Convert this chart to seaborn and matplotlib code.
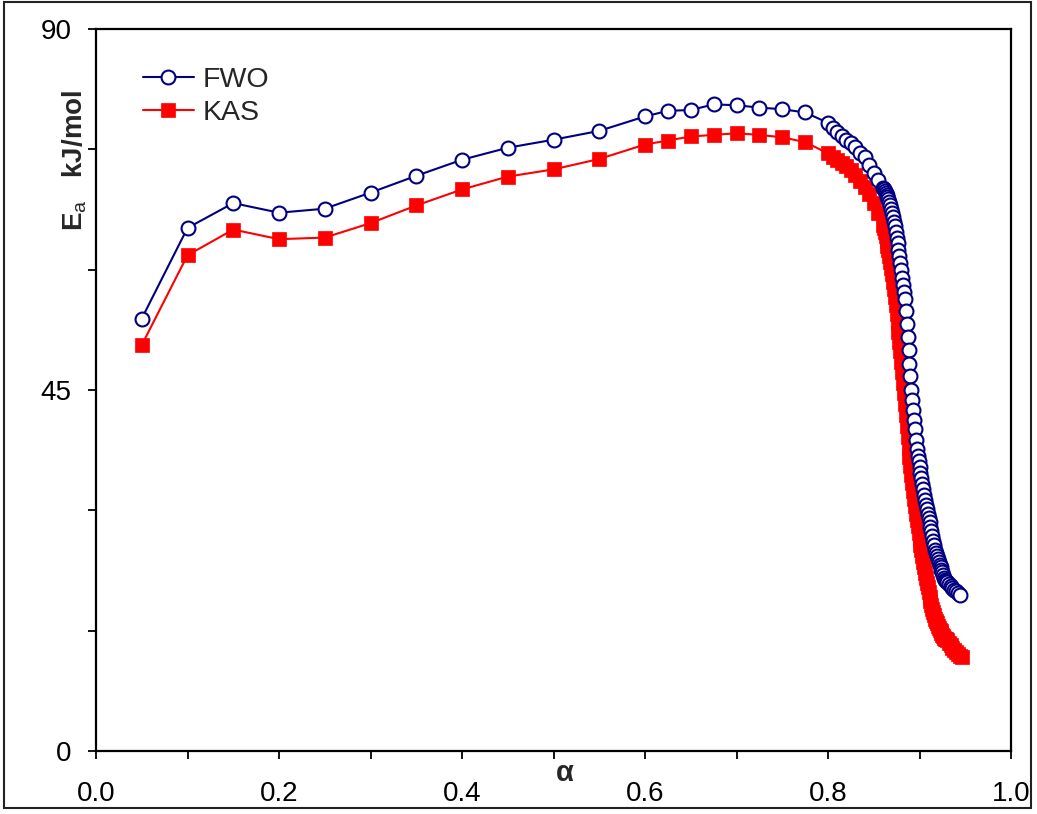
import matplotlib
matplotlib.use("Agg")
import matplotlib.pyplot as plt
from matplotlib.patches import Rectangle
import pandas as pd
import seaborn as sns

# ---------------- data ----------------
alpha_low = [0.05, 0.10, 0.15, 0.20, 0.25, 0.30, 0.35, 0.40, 0.45, 0.50,
             0.55, 0.60, 0.625, 0.65, 0.675, 0.70, 0.725, 0.75, 0.775]
alpha_mid = [0.800, 0.805, 0.810, 0.815, 0.820, 0.825, 0.830, 0.835, 0.840,
             0.845, 0.850, 0.855, 0.860]
alpha_steep = [0.861, 0.862, 0.863, 0.864, 0.865, 0.866, 0.867, 0.868, 0.869, 0.870,
               0.871, 0.872, 0.873, 0.874, 0.875, 0.876, 0.877, 0.878, 0.879, 0.880,
               0.881, 0.882, 0.883, 0.884, 0.885, 0.886, 0.887, 0.888, 0.889, 0.890,
               0.891, 0.892, 0.893, 0.894, 0.895, 0.896, 0.897, 0.898, 0.899, 0.900,
               0.901, 0.902, 0.903, 0.904, 0.905, 0.906, 0.907, 0.908, 0.909, 0.910,
               0.911, 0.912, 0.913, 0.914, 0.915, 0.916, 0.917, 0.918, 0.919, 0.920,
               0.921, 0.922, 0.923, 0.924, 0.925, 0.926, 0.927, 0.928, 0.929]
alpha_tail_fwo = [0.930, 0.932, 0.934, 0.936, 0.938, 0.940, 0.942, 0.944]
alpha_tail_kas = [0.930, 0.932, 0.934, 0.936, 0.938, 0.940, 0.942, 0.944, 0.946]

ea_fwo_low = [53.9, 65.2, 68.3, 67.1, 67.6, 69.6, 71.7, 73.7, 75.2, 76.2,
              77.3, 79.1, 79.8, 79.9, 80.6, 80.5, 80.2, 80.0, 79.6]
ea_fwo_mid = [78.3, 77.7, 77.1, 76.6, 76.2, 75.8, 75.3, 74.6, 74.0,
              73.1, 72.1, 71.2, 70.2]
ea_fwo_steep = [70.0, 69.8, 69.5, 69.3, 69.0, 68.8, 68.4, 68.0, 67.6, 67.1,
                66.6, 66.0, 65.4, 64.7, 64.0, 63.3, 62.5, 61.7, 60.8, 59.9,
                59.0, 58.1, 57.2, 56.3, 54.8, 53.2, 51.6, 50.0, 48.3, 46.7,
                45.0, 43.8, 42.5, 41.3, 40.1, 38.8, 37.6, 36.8, 36.1, 35.4,
                34.7, 34.0, 33.3, 32.6, 31.9, 31.3, 30.7, 30.2, 29.6, 29.0,
                28.5, 27.9, 27.4, 26.8, 26.2, 25.7, 25.1, 24.7, 24.3, 23.9,
                23.6, 23.2, 22.9, 22.6, 22.3, 22.0, 21.6, 21.3, 21.2]
ea_fwo_tail = [21.1, 20.8, 20.6, 20.3, 20.1, 19.9, 19.7, 19.5]

ea_kas_low = [50.6, 61.8, 65.0, 63.8, 64.0, 65.8, 68.0, 70.0, 71.6, 72.5,
              73.8, 75.6, 76.1, 76.6, 76.8, 77.0, 76.8, 76.5, 75.9]
ea_kas_mid = [74.5, 74.1, 73.7, 73.3, 72.9, 72.4, 71.8, 71.1, 70.3,
              69.4, 68.3, 67.1, 65.6]
ea_kas_steep = [65.2, 64.7, 64.2, 63.6, 63.0, 62.4, 61.7, 61.0, 60.2, 59.4,
                58.5, 57.6, 56.6, 55.6, 54.5, 53.4, 52.2, 51.0, 49.8, 48.5,
                47.2, 45.9, 44.6, 43.3, 41.9, 40.5, 39.1, 37.8, 36.6, 35.5,
                34.4, 33.4, 32.4, 31.4, 30.5, 29.6, 28.8, 28.0, 27.2, 26.4,
                25.7, 25.0, 24.3, 23.6, 22.9, 22.2, 21.6, 21.0, 20.4, 19.8,
                19.2, 18.7, 18.2, 17.7, 17.3, 16.9, 16.5, 16.2, 15.9, 15.6,
                15.3, 15.1, 14.9, 14.7, 14.5, 14.3, 14.1, 14.0, 13.9]
ea_kas_tail = [13.8, 13.5, 13.2, 12.9, 12.6, 12.4, 12.1, 11.9, 11.7]

series_names = ["FWO", "KAS"]
x_tick_pos = [0.0, 0.1, 0.2, 0.3, 0.4, 0.5, 0.6, 0.7, 0.8, 0.9, 1.0]
x_tick_labels = ["0.0", "", "0.2", "", "0.4", "", "0.6", "", "0.8", "", "1.0"]
y_tick_pos = [0, 15, 30, 45, 60, 75, 90]
y_tick_labels = ["0", "", "", "45", "", "", "90"]

fwo = pd.DataFrame({"alpha": alpha_low + alpha_mid + alpha_steep + alpha_tail_fwo,
                    "Ea": ea_fwo_low + ea_fwo_mid + ea_fwo_steep + ea_fwo_tail})
kas = pd.DataFrame({"alpha": alpha_low + alpha_mid + alpha_steep + alpha_tail_kas,
                    "Ea": ea_kas_low + ea_kas_mid + ea_kas_steep + ea_kas_tail})

# ---------------- style ----------------
sns.set_style("ticks")
plt.rcParams["font.family"] = ["Liberation Sans", "DejaVu Sans"]
plt.rcParams["mathtext.fontset"] = "custom"
plt.rcParams["mathtext.rm"] = "Liberation Sans"
plt.rcParams["mathtext.bf"] = "Liberation Sans:bold"
plt.rcParams["mathtext.it"] = "Liberation Sans:italic"

W, H = 1037, 814
fig = plt.figure(figsize=(W / 100, H / 100), dpi=100)
fig.patch.set_facecolor("white")
L, R, T, B = 96, 1011, 29, 751
ax = fig.add_axes([L / W, 1 - B / H, (R - L) / W, (B - T) / H])

navy = "#000080"
red = "#FF0000"

sns.lineplot(data=kas, x="alpha", y="Ea", ax=ax, sort=False, estimator=None,
             color=red, linewidth=1.5, marker="s", markersize=10.5,
             markerfacecolor=red, markeredgecolor=red, markeredgewidth=0.5,
             label=series_names[1], zorder=3)
sns.lineplot(data=fwo, x="alpha", y="Ea", ax=ax, sort=False, estimator=None,
             color=navy, linewidth=1.5, marker="o", markersize=10,
             markerfacecolor="white", markeredgecolor=navy, markeredgewidth=1.5,
             label=series_names[0], zorder=4)

ax.set_xlim(0, 1.0)
ax.set_ylim(0, 90)
ax.set_xticks(x_tick_pos)
ax.set_xticklabels(x_tick_labels)
ax.set_yticks(y_tick_pos)
ax.set_yticklabels(y_tick_labels)
ax.tick_params(axis="both", direction="out", length=5.5, width=1.3,
               labelsize=20, colors="black")
ax.tick_params(axis="x", pad=16)
ax.tick_params(axis="y", pad=12)
for s in ax.spines.values():
    s.set_visible(True)
    s.set_color("black")
    s.set_linewidth(1.6)
ax.set_xlabel("")
ax.set_ylabel("")

handles, labels = ax.get_legend_handles_labels()
order = [labels.index("FWO"), labels.index("KAS")]
ax.legend([handles[i] for i in order], [labels[i] for i in order],
          loc="upper left", bbox_to_anchor=(0.051, 0.948), frameon=False,
          fontsize=20.5, handlelength=1.8, handletextpad=0.3,
          borderaxespad=0, borderpad=0, labelspacing=0.25)

fig.text(565 / W, 1 - 773 / H, "α", fontsize=21, fontweight="bold",
         ha="center", va="center")
fig.text(75 / W, 1 - 160 / H, r"$\mathbf{E}_{\mathrm{a}}$   kJ/mol",
         fontsize=20, fontweight="bold", rotation=90, ha="center", va="center")

fig.add_artist(Rectangle((4 / W, 1 - 808 / H), (1031 - 4) / W, (808 - 2) / H,
                         transform=fig.transFigure, fill=False,
                         edgecolor="#222222", linewidth=1.5))

fig.savefig("out.png", dpi=100, facecolor="white")
